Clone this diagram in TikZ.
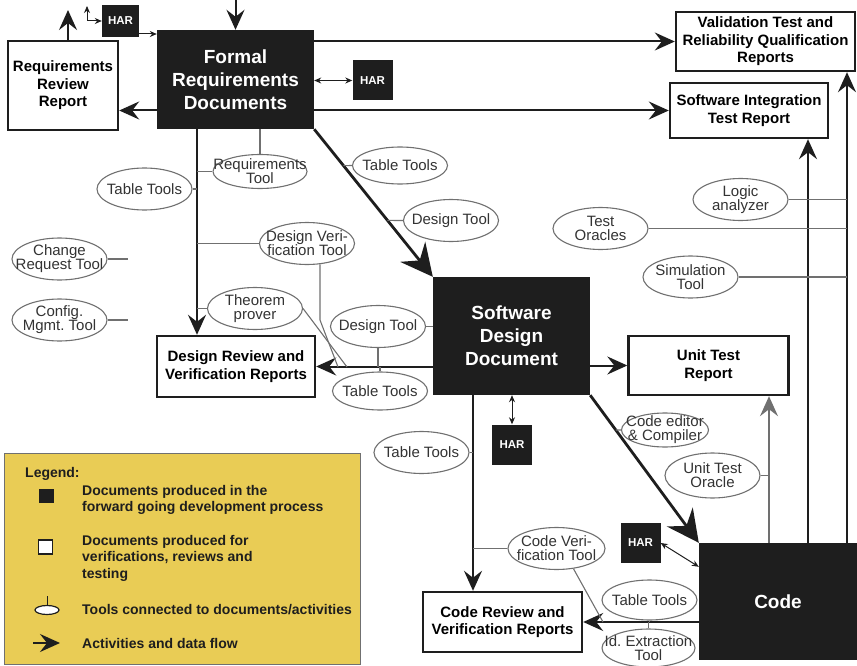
\documentclass[tikz,border=0pt]{standalone}
\usepackage{fontspec}
\setmainfont{Liberation Sans}
\usetikzlibrary{arrows.meta,shapes.geometric,calc}

\definecolor{docblack}{HTML}{1E1E1E}
\definecolor{legyellow}{HTML}{E9CC55}
\definecolor{toolgray}{HTML}{707070}
\definecolor{tooltext}{HTML}{333333}

\tikzset{
  docbox/.style={fill=docblack, text=white, inner sep=0pt, align=center,
    font=\fontsize{19}{23}\selectfont\bfseries},
  repbox/.style={draw=docblack, line width=2.4pt, fill=white, inner sep=0pt, align=center,
    font=\fontsize{15}{17.5}\selectfont\bfseries},
  harbox/.style={fill=docblack, text=white, inner sep=0pt,
    font=\fontsize{11.5}{13}\selectfont\bfseries},
  toolell/.style={ellipse, draw=toolgray, line width=1.1pt, fill=white, text=tooltext,
    inner xsep=-24pt, inner ysep=-4pt, minimum width=95pt, minimum height=42pt,
    align=center, font=\fontsize{15}{14}\selectfont},
  flowarr/.style={draw=docblack, line width=2pt, -{Stealth[length=20pt,width=18pt,inset=7pt]}},
  bigarr/.style={draw=docblack, line width=2.8pt, -{Stealth[length=32pt,width=32pt,inset=11pt]}},
  toollink/.style={draw=toolgray, line width=1.1pt},
  harone/.style={draw=docblack, line width=1pt, -{Stealth[length=7pt,width=6pt]}},
  harlink/.style={draw=docblack, line width=1pt, {Stealth[length=7pt,width=6pt]}-{Stealth[length=7pt,width=6pt]}},
  legtext/.style={text=docblack, inner sep=0pt, align=left,
    font=\fontsize{14}{16.5}\selectfont\bfseries},
}

\begin{document}
\begin{tikzpicture}[x=1pt,y=-1pt]
  \useasboundingbox (0,0) rectangle (857,666);
  \clip (0,0) rectangle (857,666);

  % 总线与自由端点
  \coordinate (frdbus) at (197,0);
  \coordinate (cvbus)  at (473,0);
  \coordinate (utbus)  at (769,0);
  \coordinate (sitbus) at (808,0);
  \coordinate (valbus) at (847,0);
  \coordinate (topin)  at (235.5,0);
  \coordinate (rrrup)  at (68,10);
  \coordinate (harup)  at (87,6);
  \coordinate (crtend) at (128,259);
  \coordinate (cfgend) at (128,320);
  \coordinate (dvtbend) at (320,320);
  \coordinate (dvtend) at (338,367);
  \coordinate (thmend) at (347,367);
  \coordinate (cvtend) at (603,622);

  % 黑色文档框
  \node[docbox, minimum width=157pt, minimum height=99pt] (FRD) at (235.5,79.5) {Formal\\Requirements\\Documents};
  \node[docbox, minimum width=157pt, minimum height=118pt] (SDD) at (511.5,336) {Software\\Design\\Document};
  \node[docbox, minimum width=158pt, minimum height=117pt] (Code) at (778,601.5) {Code};

  % 报告框
  \node[repbox, minimum width=110pt, minimum height=89pt] (RRR) at (63,85.5) {Requirements\\Review\\Report};
  \node[repbox, minimum width=179pt, minimum height=59pt] (Val) at (765.5,41.5) {Validation Test and\\Reliability Qualification\\Reports};
  \node[repbox, minimum width=158pt, minimum height=55pt] (SIT) at (749,110.5) {Software Integration\\Test Report};
  \node[repbox, minimum width=158pt, minimum height=61pt] (DRVR) at (236,366.5) {Design Review and\\Verification Reports};
  \node[repbox, minimum width=160pt, minimum height=59pt] (UTR) at (708.5,365.5) {Unit Test\\Report};
  \node[repbox, minimum width=159pt, minimum height=60pt] (CRVR) at (502.5,622) {Code Review and\\Verification Reports};

  % HAR
  \node[harbox, minimum width=37pt, minimum height=32pt] (HARa) at (120.5,21) {HAR};
  \node[harbox, minimum size=40pt] (HARb) at (372.5,80.5) {HAR};
  \node[harbox, minimum size=40pt] (HARc) at (512,444.5) {HAR};
  \node[harbox, minimum size=40pt] (HARd) at (640.5,543) {HAR};

  % 工具（椭圆）
  \node[toolell, minimum width=94pt, minimum height=34pt] (ReqTool) at (260,171.5) {Requirements\\Tool};
  \node[toolell] (TabL) at (144.5,189) {Table Tools};
  \node[toolell] (DVT) at (307,243.5) {Design Veri-\\fication Tool};
  \node[toolell] (Theorem) at (255,308.5) {Theorem\\prover};
  \node[toolell] (CRT) at (59.5,259) {Change\\Request Tool};
  \node[toolell] (Config) at (59.5,320) {Config.\\Mgmt.\ Tool};
  \node[toolell, minimum height=37pt] (TabU) at (400,165.5) {Table Tools};
  \node[toolell] (DesU) at (451,220.5) {Design Tool};
  \node[toolell] (DesS) at (378,326.5) {Design Tool};
  \node[toolell, minimum height=38pt] (TabS) at (380,391) {Table Tools};
  \node[toolell] (TabB) at (421.5,452.5) {Table Tools};
  \node[toolell] (Oracles) at (600.5,228.5) {Test\\Oracles};
  \node[toolell] (Logic) at (740.5,199.5) {Logic\\analyzer};
  \node[toolell] (Sim) at (690.5,277) {Simulation\\Tool};
  \node[toolell, minimum width=87pt, minimum height=34pt] (Editor) at (665,430) {Code editor\\\& Compiler};
  \node[toolell, minimum height=45pt] (UTO) at (712.5,475.5) {Unit Test\\Oracle};
  \node[toolell, minimum width=97pt] (CVT) at (556.5,548.5) {Code Veri-\\fication Tool};
  \node[toolell, minimum height=40pt] (TabC) at (649.5,600) {Table Tools};
  \node[toolell, minimum width=93pt, minimum height=38pt] (IdExt) at (648.5,648) {Id.\ Extraction\\Tool};

  % 主流程箭头
  \draw[flowarr] (topin) -- (FRD.north);
  \draw[flowarr] (rrrup |- RRR.north) -- (rrrup);
  \draw[flowarr] (FRD.east |- Val.west) -- (Val.west);
  \draw[flowarr] (FRD.east |- SIT.west) -- (SIT.west);
  \draw[flowarr] (FRD.west |- SIT.west) -- (RRR.east |- SIT.west);
  \draw[flowarr] (FRD.south -| frdbus) -- (DRVR.north -| frdbus);
  \draw[bigarr] (FRD.south east) -- (SDD.north west);
  \draw[flowarr] (SDD.west |- DRVR.east) -- (DRVR.east);
  \draw[flowarr] (SDD.east |- UTR.west) -- (UTR.west);
  \draw[flowarr] (SDD.south -| cvbus) -- (CRVR.north -| cvbus);
  \draw[bigarr] (SDD.south east) -- (Code.north west);
  \draw[flowarr] (Code.west |- CRVR.east) -- (CRVR.east);
  \draw[flowarr, draw=toolgray, line width=1.5pt] (Code.north -| utbus) -- (UTR.south -| utbus);
  \draw[flowarr] (Code.north -| sitbus) -- (SIT.south -| sitbus);
  \draw[flowarr] (Code.north -| valbus) -- (Val.south -| valbus);

  % HAR 连线
  \draw[harlink] (harup) |- (HARa.west);
  \draw[harone] ([yshift=-13pt]HARa.east) -- ([yshift=-13pt]HARa.east -| FRD.west);
  \draw[harlink] (FRD.east |- HARb.west) -- (HARb.west);
  \draw[harlink] (SDD.south -| HARc.north) -- (HARc.north);
  \draw[harlink] (HARd.east) -- ([yshift=-24pt]Code.north west);

  % 工具连线
  \draw[toollink] (ReqTool.north) -- (ReqTool.north |- FRD.south);
  \foreach \t in {ReqTool,DVT,Theorem}
    \draw[toollink] (\t.west) -- (\t.west -| frdbus);
  \draw[toollink] (TabL.east) -- (TabL.east -| frdbus);
  \draw[toollink] (DVT.-58) -- (dvtbend) -- (dvtend);
  \draw[toollink] (Theorem.east) -- (thmend);
  \draw[toollink] (CRT.east) -- (crtend);
  \draw[toollink] (Config.east) -- (cfgend);
  \draw[toollink] (TabU.west) -- ($(FRD.south east)!0.247!(SDD.north west)$);
  \draw[toollink] (DesU.west) -- ($(FRD.south east)!0.618!(SDD.north west)$);
  \draw[toollink] (DesS.east) -- (DesS.east -| SDD.west);
  \draw[toollink] (DesS.south) -- (DesS.south |- DRVR.east);
  \draw[toollink] (TabS.north) -- (TabS.north |- DRVR.east);
  \draw[toollink] (TabB.east) -- (TabB.east -| cvbus);
  \draw[toollink] (CVT.west) -- (CVT.west -| cvbus);
  \draw[toollink] (CVT.-50) -- (cvtend);
  \draw[toollink] (Editor.west) -- ($(SDD.south east)!0.236!(Code.north west)$);
  \draw[toollink] (UTO.east) -- (UTO.east -| utbus);
  \foreach \t in {Logic,Oracles,Sim}
    \draw[toollink] (\t.east) -- (\t.east -| valbus);
  \draw[toollink] (TabC.south) -- (TabC.south |- CRVR.east);
  \draw[toollink] (IdExt.north) -- (IdExt.north |- CRVR.east);

  % 图例
  \node[draw=toolgray, line width=1pt, fill=legyellow, minimum width=356pt, minimum height=211pt] (legend) at (182,558.5) {};
  \node[legtext, anchor=base west] (legtitle) at (25,477) {Legend:};
  \node[fill=docblack, minimum width=15pt, minimum height=14pt, inner sep=0pt] (legblack) at (46.5,496) {};
  \node[legtext, anchor=west] (legblacktxt) at (82,500) {Documents produced in the\\forward going development process};
  \node[draw=docblack, line width=1.5pt, fill=white, minimum size=14pt, inner sep=0pt] (legwhite) at (45.5,547) {};
  \node[legtext, anchor=west] (legwhitetxt) at (82,558) {Documents produced for\\verifications, reviews and\\testing};
  \node[ellipse, draw=docblack, line width=1.2pt, fill=white, minimum width=24pt, minimum height=9pt, inner sep=0pt] (legtool) at (47,610) {};
  \draw[draw=docblack, line width=1pt] (legtool.north) -- ++(0,-9);
  \node[legtext, anchor=west] (legtooltxt) at (82,610) {Tools connected to documents/activities};
  \coordinate (legA) at (33,643);
  \coordinate (legB) at (60,643);
  \draw[flowarr] (legA) -- (legB);
  \node[legtext, anchor=west] (legflowtxt) at (82,643) {Activities and data flow};
\end{tikzpicture}
\end{document}
